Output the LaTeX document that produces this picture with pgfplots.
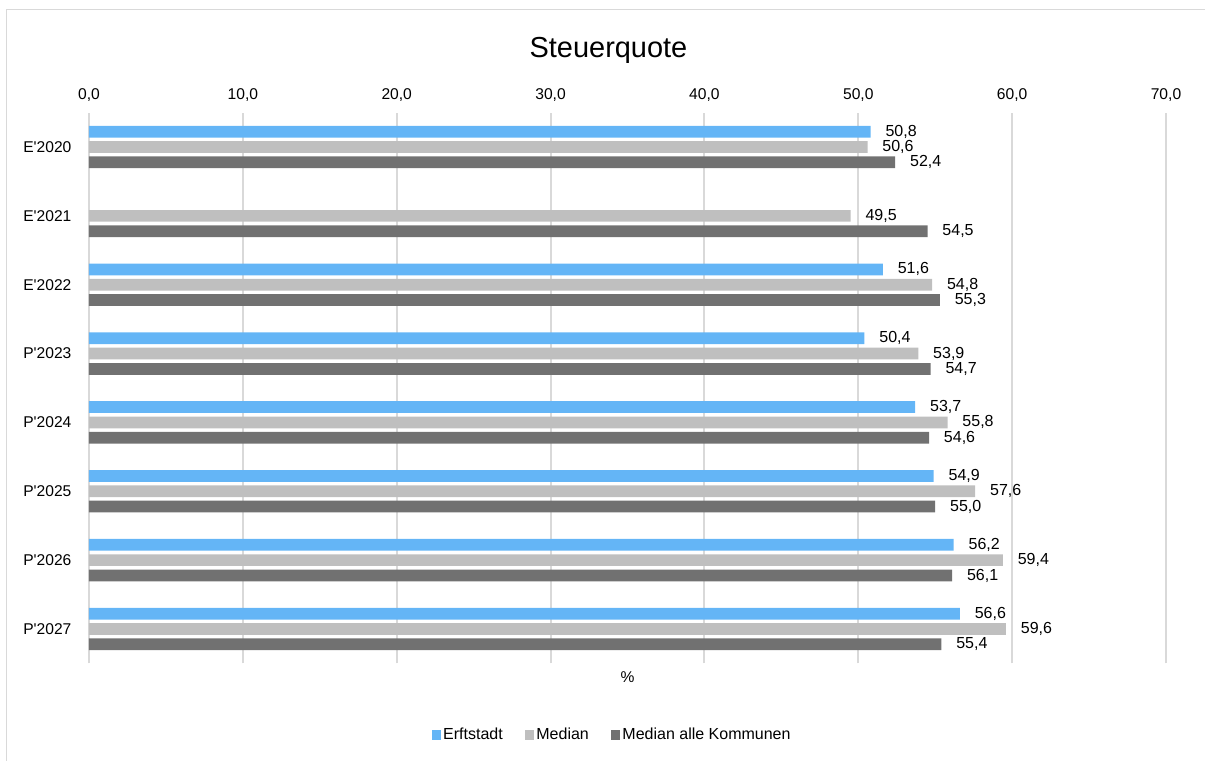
\documentclass[border=0pt]{standalone}
\usepackage{fontspec}
\setmainfont{Liberation Sans}
\usepackage{pgfplots}
\pgfplotsset{compat=1.18}
\definecolor{erft}{HTML}{64B5F6}
\definecolor{med}{HTML}{BFBFBF}
\definecolor{medall}{HTML}{717171}
\definecolor{gridc}{HTML}{D9D9D9}
\newcommand{\lblfont}{\fontsize{11.7}{14}\selectfont}
\newcommand{\legfont}{\fontsize{12}{14}\selectfont}
\begin{document}
\begin{tikzpicture}
\useasboundingbox (-66.75pt,-72.45pt) rectangle (837pt,497.55pt);
\draw[gridc, line width=0.75pt] (-61.5pt,-79.95pt) rectangle (844.5pt,490.05pt);
\begin{axis}[
  at={(0,0)}, anchor=south west,
  scale only axis, width=807.75pt, height=413.1pt,
  xbar, bar width=8.8pt,
  xmin=0, xmax=70, ymin=-0.5, ymax=7.5,
  xtick={0,10,...,70},
  xticklabel pos=upper,
  ytick={0,...,7},
  yticklabels={P\textquotesingle 2027,P\textquotesingle 2026,P\textquotesingle 2025,P\textquotesingle 2024,P\textquotesingle 2023,E\textquotesingle 2022,E\textquotesingle 2021,E\textquotesingle 2020},
  axis line style={draw=none},
  major tick length=0pt, tick style={draw=none},
  xmajorgrids, grid style={gridc, line width=1.4pt},
  tick label style={font=\lblfont},
  xticklabel style={anchor=base, yshift=9.5pt},
  yticklabel style={anchor=east, inner sep=0pt, xshift=-13pt},
  /pgf/number format/.cd, use comma, fixed, fixed zerofill, precision=1, assume math mode=true,
  /pgfplots/.cd,
  clip=false,
  nodes near coords,
  every node near coord/.append style={font=\legfont, anchor=west, inner sep=0pt, xshift=11pt, black},
  legend columns=-1,
  legend image code/.code={\fill[#1,draw=none] (0pt,-3.6pt) rectangle (7.2pt,3.6pt);},
  legend style={draw=none, at={(0.4857,-0.130)}, anchor=center, font=\legfont,
    /tikz/every even column/.append style={column sep=15pt},
    nodes={inner sep=1.5pt}},
]
\addplot[fill=erft, draw=none, bar shift=11.5pt] coordinates {
  (50.8,7) (51.6,5) (50.4,4) (53.7,3) (54.9,2) (56.2,1) (56.6,0)};
\addplot[fill=med, draw=none, bar shift=0pt] coordinates {
  (50.6,7) (49.5,6) (54.8,5) (53.9,4) (55.8,3) (57.6,2) (59.4,1) (59.6,0)};
\addplot[fill=medall, draw=none, bar shift=-11.5pt] coordinates {
  (52.4,7) (54.5,6) (55.3,5) (54.7,4) (54.6,3) (55.0,2) (56.1,1) (55.4,0)};
\legend{Erftstadt, Median, Median alle Kommunen}
\end{axis}
\node[anchor=base, font=\fontsize{21.7}{25}\selectfont] at (389.6pt,454.3pt) {Steuerquote};
\node[anchor=base, font=\lblfont] at (403.9pt,-13.95pt) {\%};
\end{tikzpicture}
\end{document}
